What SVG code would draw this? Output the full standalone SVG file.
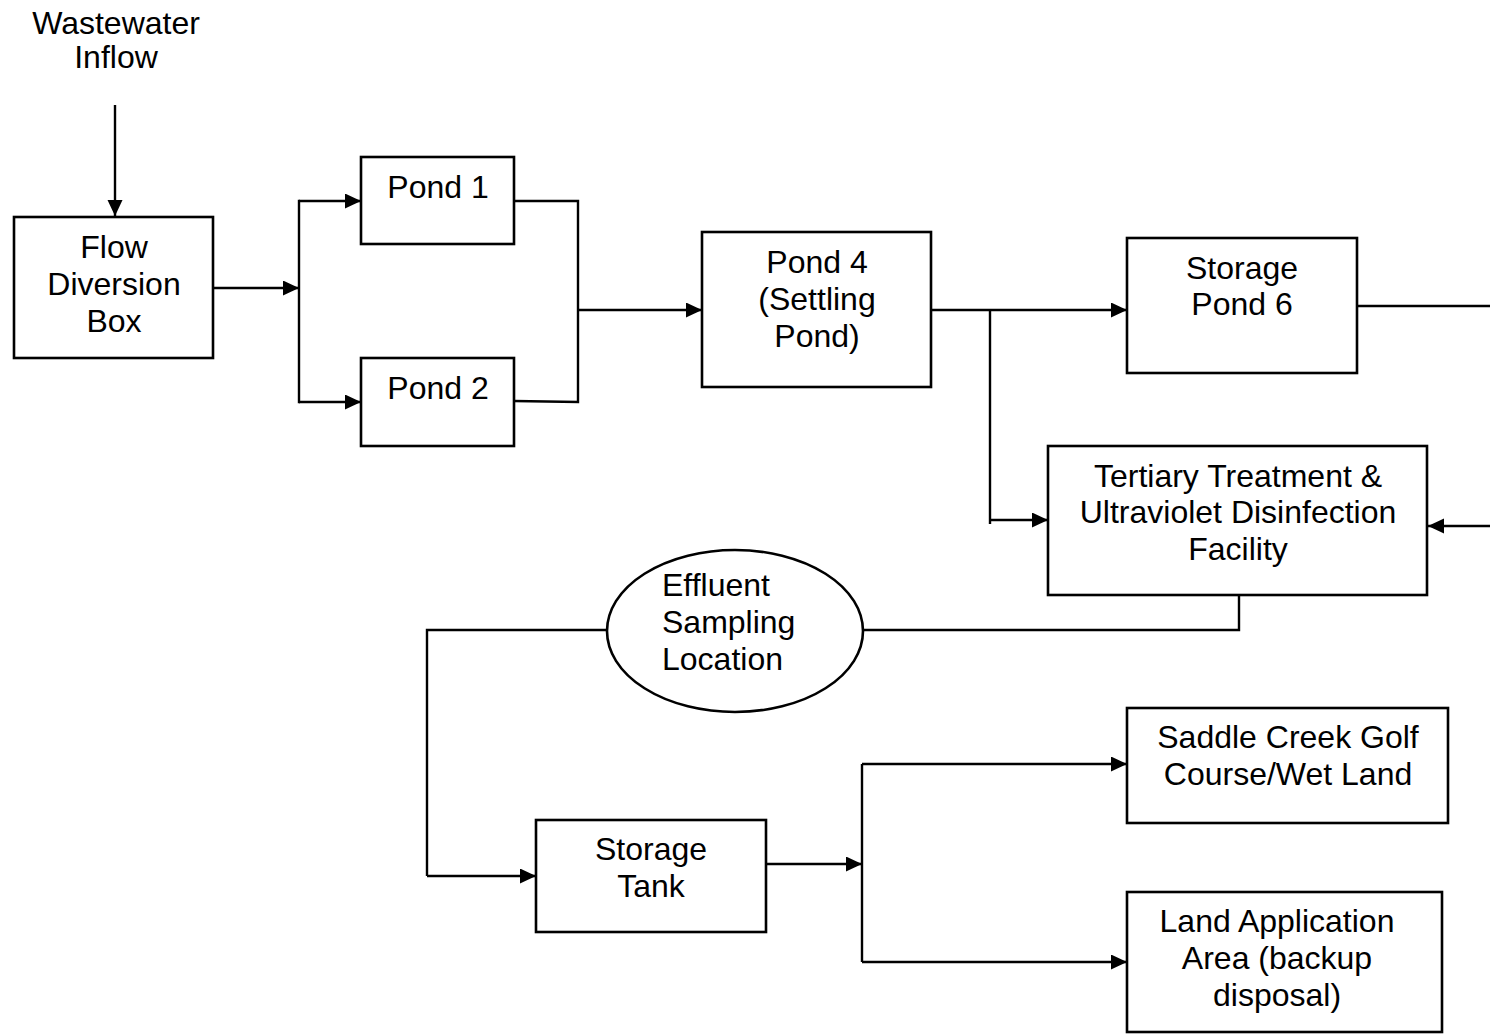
<svg xmlns="http://www.w3.org/2000/svg" width="1490" height="1034" viewBox="0 0 1490 1034">
<style>
.box{fill:#fff;stroke:#000;stroke-width:2.6}
.ln{fill:none;stroke:#000;stroke-width:2.4}
text{font-family:"Liberation Sans",Arial,sans-serif;font-size:32px;fill:#000}
.c{text-anchor:middle}
</style>
<defs>
<marker id="ah" markerUnits="userSpaceOnUse" markerWidth="18" markerHeight="16" refX="16" refY="7.5" orient="auto">
<path d="M0,0 L16,7.5 L0,15 z" fill="#000"/>
</marker>
</defs>
<rect width="1490" height="1034" fill="#fff"/>
<g id="connectors">
<line class="ln" x1="115" y1="105" x2="115" y2="216" marker-end="url(#ah)"/>
<line class="ln" x1="213" y1="288" x2="299" y2="288" marker-end="url(#ah)"/>
<polyline class="ln" points="300,201 299,201 299,402 300,402"/>
<line class="ln" x1="299" y1="201" x2="361" y2="201" marker-end="url(#ah)"/>
<line class="ln" x1="299" y1="402" x2="361" y2="402" marker-end="url(#ah)"/>
<polyline class="ln" points="514,201 578,201 578,402 514,401"/>
<line class="ln" x1="578" y1="310" x2="702" y2="310" marker-end="url(#ah)"/>
<line class="ln" x1="931" y1="310" x2="1127" y2="310" marker-end="url(#ah)"/>
<line class="ln" x1="990" y1="311" x2="990" y2="524"/>
<line class="ln" x1="990" y1="520" x2="1048" y2="520" marker-end="url(#ah)"/>
<line class="ln" x1="1357" y1="306" x2="1490" y2="306"/>
<line class="ln" x1="1490" y1="526" x2="1428" y2="526" marker-end="url(#ah)"/>
<polyline class="ln" points="1239,595 1239,630 862,630"/>
<polyline class="ln" points="607,630 427,630 427,876"/>
<line class="ln" x1="427" y1="876" x2="536" y2="876" marker-end="url(#ah)"/>
<line class="ln" x1="766" y1="864" x2="862" y2="864" marker-end="url(#ah)"/>
<line class="ln" x1="862" y1="764" x2="862" y2="962"/>
<line class="ln" x1="862" y1="764" x2="1127" y2="764" marker-end="url(#ah)"/>
<line class="ln" x1="862" y1="962" x2="1127" y2="962" marker-end="url(#ah)"/>
</g>
<g id="inflow">
<text class="c" x="116" y="34">Wastewater</text>
<text class="c" x="116" y="68">Inflow</text>
</g>
<g id="flow-diversion-box">
<rect class="box" x="14" y="217" width="199" height="141"/>
<text class="c" x="114" y="258">Flow</text>
<text class="c" x="114" y="295">Diversion</text>
<text class="c" x="114" y="332">Box</text>
</g>
<g id="pond1">
<rect class="box" x="361" y="157" width="153" height="87"/>
<text class="c" x="438" y="198">Pond 1</text>
</g>
<g id="pond2">
<rect class="box" x="361" y="358" width="153" height="88"/>
<text class="c" x="438" y="399">Pond 2</text>
</g>
<g id="pond4">
<rect class="box" x="702" y="232" width="229" height="155"/>
<text class="c" x="817" y="273">Pond 4</text>
<text class="c" x="817" y="310">(Settling</text>
<text class="c" x="817" y="347">Pond)</text>
</g>
<g id="storage-pond6">
<rect class="box" x="1127" y="238" width="230" height="135"/>
<text class="c" x="1242" y="279">Storage</text>
<text class="c" x="1242" y="315">Pond 6</text>
</g>
<g id="tertiary">
<rect class="box" x="1048" y="446" width="379" height="149"/>
<text class="c" x="1238" y="487">Tertiary Treatment &amp;</text>
<text class="c" x="1238" y="523">Ultraviolet Disinfection</text>
<text class="c" x="1238" y="560">Facility</text>
</g>
<g id="effluent-sampling">
<ellipse class="box" cx="735" cy="631" rx="128" ry="81" stroke-width="3.2"/>
<text x="662" y="596">Effluent</text>
<text x="662" y="633">Sampling</text>
<text x="662" y="670">Location</text>
</g>
<g id="storage-tank">
<rect class="box" x="536" y="820" width="230" height="112"/>
<text class="c" x="651" y="860">Storage</text>
<text class="c" x="651" y="897">Tank</text>
</g>
<g id="saddle-creek">
<rect class="box" x="1127" y="708" width="321" height="115"/>
<text class="c" x="1288" y="748">Saddle Creek Golf</text>
<text class="c" x="1288" y="785">Course/Wet Land</text>
</g>
<g id="land-application">
<rect class="box" x="1127" y="892" width="315" height="140"/>
<text class="c" x="1277" y="932">Land Application</text>
<text class="c" x="1277" y="969">Area (backup</text>
<text class="c" x="1277" y="1006">disposal)</text>
</g>
</svg>
